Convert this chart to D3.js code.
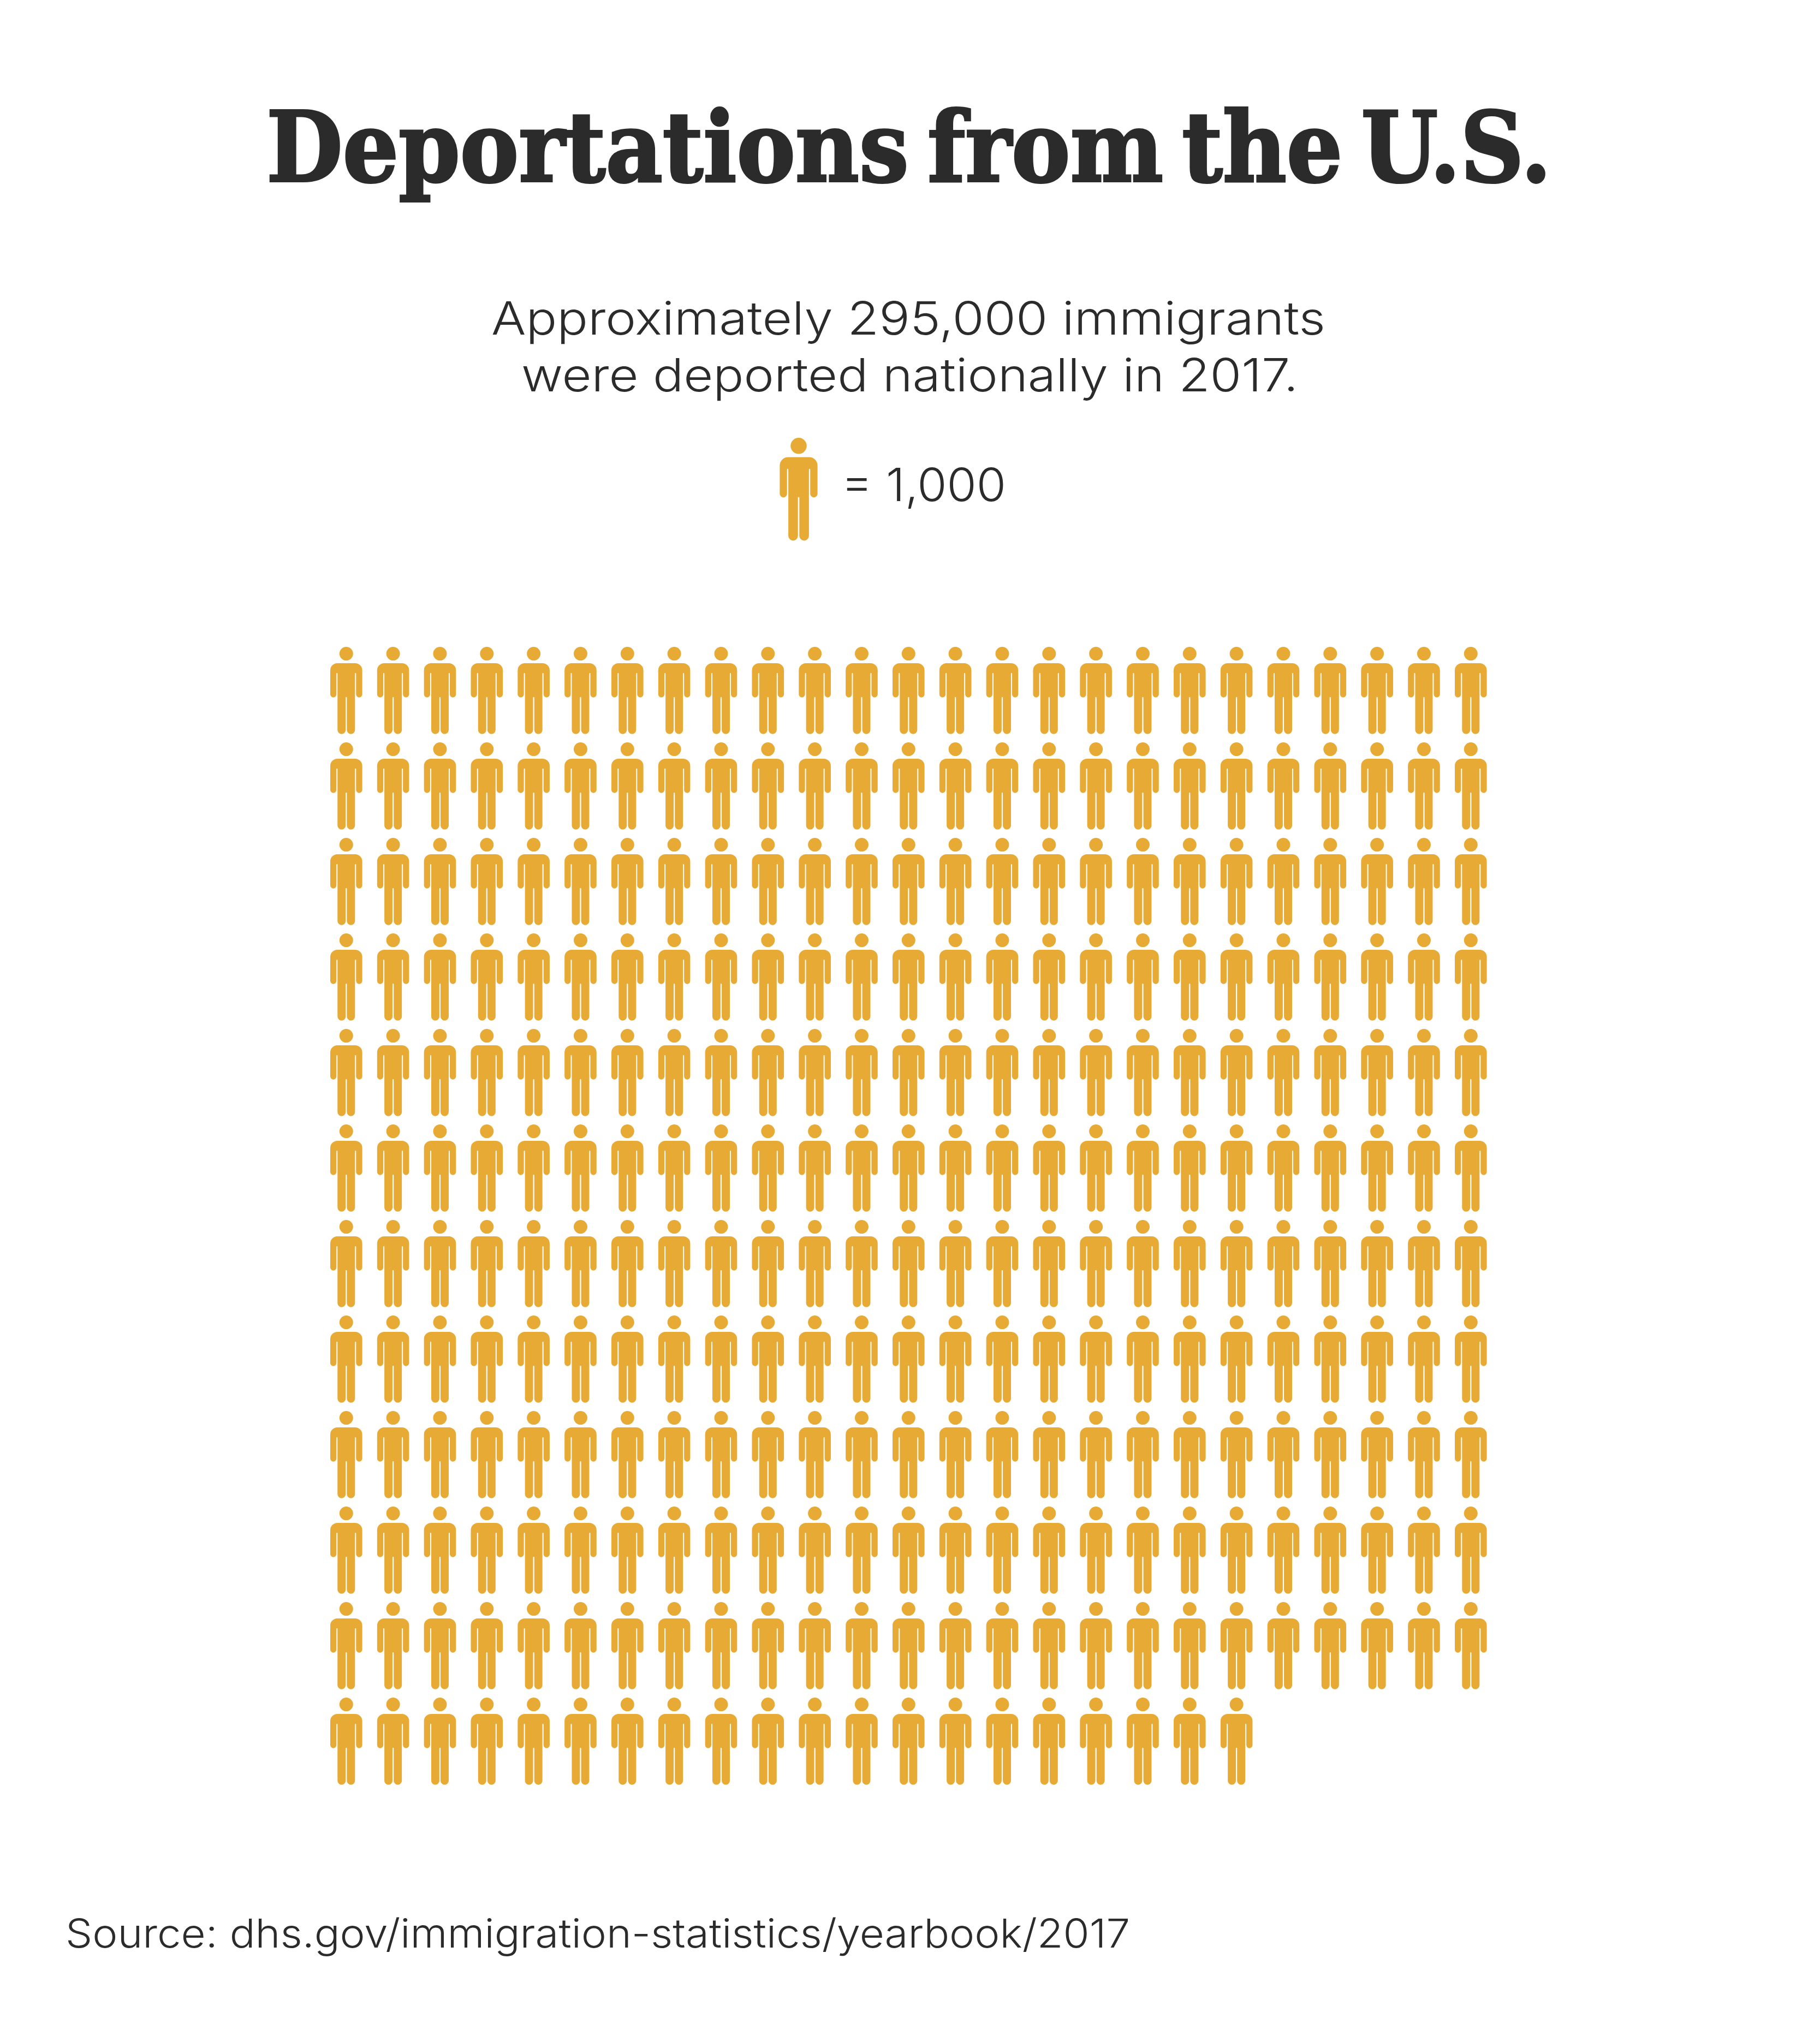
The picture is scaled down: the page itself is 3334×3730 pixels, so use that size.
<!DOCTYPE html>
<html>
<head>
<meta charset="utf-8">
<title>Deportations from the U.S.</title>
<script src="https://cdn.jsdelivr.net/npm/d3@7"></script>
<style>
  html, body { margin: 0; padding: 0; background: #fff; }
  svg { display: block; }
</style>
</head>
<body>
<div id="chart"></div>
<script>
// each icon is 1,000 people, 295 icons in all
const iconsPerRow = [25, 25, 25, 25, 25, 25, 25, 25, 25, 25, 25, 20];
const legendLabel = ['= 1,000'];
const titleText = 'Deportations from the U.S.';
const subtitleLines = ['Approximately 295,000 immigrants', 'were deported nationally in 2017.'];
const sourceText = 'Source: dhs.gov/immigration-statistics/yearbook/2017';

const width = 3334;
const height = 3730;
const iconColor = '#e6aa35';
const textColor = '#2b2b2b';
const lightFont = 'Inter, Lato, "Open Sans", sans-serif';

var svg = d3.select('#chart').append('svg')
    .attr('width', width)
    .attr('height', height)
    .attr('viewBox', [0, 0, width, height]);

// person shape, x from the centre line, y from the top of the head
function personPath() {
    var p = d3.path();
    p.moveTo(12.5, 12.6);
    p.arc(0, 12.6, 12.5, 0, 2 * Math.PI);
    p.closePath();
    p.moveTo(-29.3, 43);
    p.arc(-16.3, 43, 13, Math.PI, 1.5 * Math.PI);
    p.arc(16.3, 43, 13, -0.5 * Math.PI, 0);
    p.arc(23.65, 87, 5.65, 0, Math.PI);      // right hand
    p.arc(17, 49, 1, 0, Math.PI, true);      // right arm slit
    p.arc(8.55, 152.2, 7.45, 0, Math.PI);    // right foot
    p.arc(0, 93, 1.1, 0, Math.PI, true);     // leg slit
    p.arc(-8.55, 152.2, 7.45, 0, Math.PI);   // left foot
    p.arc(-17, 49, 1, 0, Math.PI, true);     // left arm slit
    p.arc(-23.65, 87, 5.65, 0, Math.PI);     // left hand
    p.closePath();
    return p.toString();
}
const person = personPath();

var x = d3.scalePoint()
    .domain(d3.range(d3.max(iconsPerRow)))
    .range([634.3, 2694.3]);

var y = d3.scalePoint()
    .domain(d3.range(iconsPerRow.length))
    .range([1185, 3110]);

var icons = iconsPerRow.flatMap((count, row) => d3.range(count).map(col => ({row: row, col: col})));

svg.append('g')
    .selectAll('path')
    .data(icons)
    .join('path')
    .attr('d', person)
    .attr('fill', iconColor)
    .attr('transform', d => `translate(${x(d.col)},${y(d.row)})`);

// title, the stroke gives it the weight of the original slab face
svg.append('text')
    .attr('x', 488)
    .attr('y', 332)
    .attr('textLength', 2354)
    .attr('lengthAdjust', 'spacingAndGlyphs')
    .style('font-family', '"DejaVu Serif", serif')
    .style('font-weight', 700)
    .style('font-size', '178px')
    .style('word-spacing', '-24px')
    .attr('fill', textColor)
    .attr('stroke', textColor)
    .attr('stroke-width', 4)
    .text(titleText);

// subtitle
const subtitleSpots = [{x: 900, y: 612.7, w: 1528}, {x: 955, y: 716.7, w: 1423}];
svg.append('g')
    .selectAll('text')
    .data(subtitleLines)
    .join('text')
    .attr('x', (d, i) => subtitleSpots[i].x)
    .attr('y', (d, i) => subtitleSpots[i].y)
    .attr('textLength', (d, i) => subtitleSpots[i].w)
    .attr('lengthAdjust', 'spacingAndGlyphs')
    .style('font-family', lightFont)
    .style('font-weight', 300)
    .style('font-size', '84px')
    .attr('fill', textColor)
    .text(d => d);

// legend
svg.append('path')
    .attr('d', person)
    .attr('fill', iconColor)
    .attr('transform', 'translate(1463,802) scale(1.18)');

svg.append('text')
    .attr('x', 1541)
    .attr('y', 918)
    .attr('textLength', 302)
    .attr('lengthAdjust', 'spacingAndGlyphs')
    .style('font-family', lightFont)
    .style('font-weight', 300)
    .style('font-size', '84px')
    .attr('fill', textColor)
    .text(legendLabel[0]);

// source
svg.append('text')
    .attr('x', 120)
    .attr('y', 3568)
    .attr('textLength', 1950)
    .attr('lengthAdjust', 'spacingAndGlyphs')
    .style('font-family', lightFont)
    .style('font-weight', 300)
    .style('font-size', '73px')
    .attr('fill', textColor)
    .text(sourceText);
</script>
</body>
</html>
